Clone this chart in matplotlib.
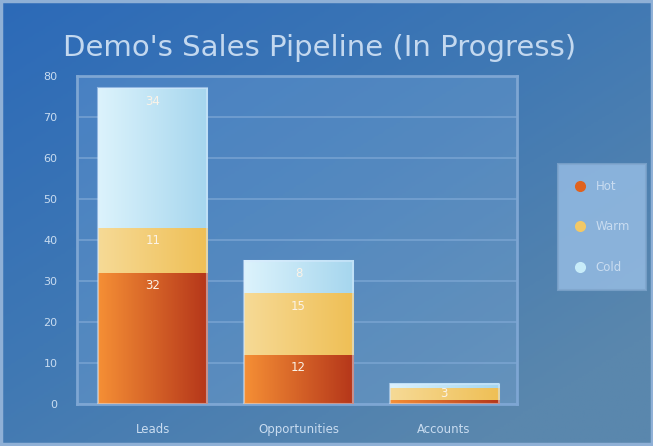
import numpy as np
import matplotlib
matplotlib.use("Agg")
import matplotlib.pyplot as plt
from matplotlib.colors import LinearSegmentedColormap
from matplotlib.lines import Line2D
from matplotlib.patches import Rectangle

# ---- data ----
categories = ["Leads", "Opportunities", "Accounts"]
hot = [32, 12, 1]
warm = [11, 15, 3]
cold = [34, 8, 1]
series_names = ["Hot", "Warm", "Cold"]
yticks = [0, 10, 20, 30, 40, 50, 60, 70, 80]
title = "Demo's Sales Pipeline (In Progress)"

# ---- styles ----
grad = {
    "Hot": ("#f58f35", "#b5361a"),
    "Warm": ("#f6da96", "#efbf55"),
    "Cold": ("#dcf3fc", "#a6d6ee"),
}
legend_col = {"Hot": "#e0621e", "Warm": "#f2c866", "Cold": "#c8ecf9"}
txt = "#c9dcf0"

W, H = 653, 446
fig = plt.figure(figsize=(W / 100, H / 100), dpi=100)

# background gradient
bg = fig.add_axes([0, 0, 1, 1])
bg.set_axis_off()
yy, xx = np.mgrid[0:1:200j, 0:1:300j]
t = np.clip(0.55 * xx + 0.6 * yy, 0, 1)
bgcmap = LinearSegmentedColormap.from_list("bg", ["#2c6ab8", "#3f78b4", "#5a87ad"])
bg.imshow(t, cmap=bgcmap, extent=[0, 1, 0, 1], aspect="auto", origin="upper")
bg.set_xlim(0, 1)
bg.set_ylim(0, 1)
bg.add_patch(Rectangle((0.002, 0.004), 0.996, 0.993, fill=False, ec="#8fb0d6", lw=2.5))

ax = fig.add_axes([77 / W, 1 - 404 / H, (517 - 77) / W, (404 - 76) / H])
ax.set_facecolor((0.55, 0.72, 0.90, 0.25))
for s in ax.spines.values():
    s.set_color("#7ea6d3")
    s.set_linewidth(2)

x = np.arange(len(categories))
width = 0.75
bottom = np.zeros(len(categories))
for name, vals in zip(series_names, [hot, warm, cold]):
    bars = ax.bar(x, vals, width, bottom=bottom, color=grad[name][1], edgecolor="none", zorder=3)
    cmap = LinearSegmentedColormap.from_list(name, grad[name])
    g = np.linspace(0, 1, 100).reshape(1, -1)
    for b, v in zip(bars, vals):
        x0, y0 = b.get_x(), b.get_y()
        w, h = b.get_width(), b.get_height()
        im = ax.imshow(g, cmap=cmap, extent=[x0, x0 + w, y0, y0 + h], aspect="auto", zorder=4)
        im.set_clip_path(b)
        if h >= 3:
            ty = y0 + h - 3.2 if h >= 6 else y0 + h / 2
            ax.text(x0 + w / 2, ty, f"{v}", ha="center", va="center", color="#fbf3e8",
                    fontsize=8.5, zorder=6)
    bottom = bottom + np.array(vals)

for i, tot in enumerate(bottom):
    ax.add_patch(Rectangle((x[i] - width / 2, 0), width, tot, fill=False,
                           ec=(0.85, 0.92, 1.0, 0.5), lw=1.5, zorder=5))

ax.set_xlim(-0.52, 2.5)
ax.set_ylim(0, 80)
ax.set_yticks(yticks)
ax.set_yticklabels([str(v) for v in yticks], color=txt, fontsize=8)
ax.set_xticks(x)
ax.set_xticklabels(categories, color=txt, fontsize=8.5)
ax.tick_params(axis="both", length=0)
ax.tick_params(axis="y", pad=14)
ax.tick_params(axis="x", pad=14)
ax.grid(axis="y", color="#80a9d6", lw=1.3, alpha=0.7, zorder=1)
ax.set_axisbelow(True)

fig.text(320 / W, 1 - 48 / H, title, ha="center", va="center", color="#c3d8ef", fontsize=21)

handles = [Line2D([], [], marker="o", ls="none", markersize=8, markerfacecolor=legend_col[n],
                  markeredgecolor="none") for n in series_names]
leg = fig.legend(handles, series_names, loc="center", bbox_to_anchor=(602 / W, 1 - 227 / H),
                 frameon=True, fontsize=8.5, labelcolor=txt, labelspacing=2.3,
                 handletextpad=0.8, borderpad=1.4, fancybox=False, handlelength=1.0)
fr = leg.get_frame()
fr.set_facecolor((0.6, 0.75, 0.9, 0.25))
fr.set_edgecolor("#7fa5cc")
fr.set_linewidth(1.5)

fig.savefig("out.png", dpi=100)
